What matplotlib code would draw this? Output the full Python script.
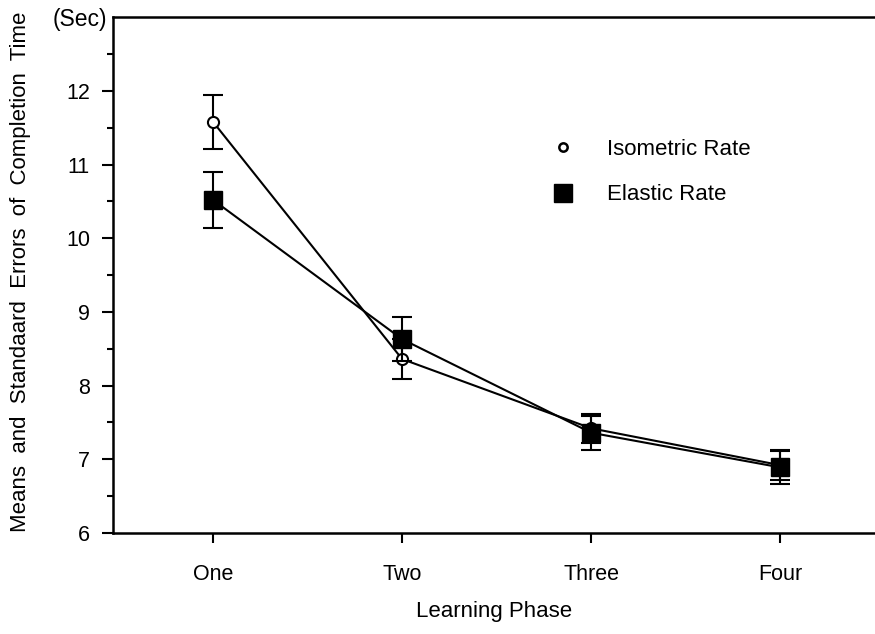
import matplotlib
matplotlib.use("Agg")
import matplotlib.pyplot as plt
from matplotlib.lines import Line2D

plt.rcParams['font.family'] = ['Liberation Sans', 'DejaVu Sans']

# Data
phases = ['One', 'Two', 'Three', 'Four']
x = [1, 2, 3, 4]
iso_mean = [11.58, 8.36, 7.42, 6.92]
iso_err = [0.37, 0.27, 0.20, 0.20]
ela_mean = [10.52, 8.63, 7.36, 6.89]
ela_err = [0.38, 0.30, 0.23, 0.22]

fig = plt.figure(figsize=(8.75, 6.34), dpi=100)
ax = fig.add_axes([0.1297, 0.1593, 0.8703, 0.8137])

# Isometric rate (open circles)
ax.errorbar(x, iso_mean, yerr=iso_err, color='black', lw=1.5, elinewidth=1.5,
            capsize=7, capthick=1.5, marker='o', markersize=8,
            markerfacecolor='white', markeredgecolor='black', markeredgewidth=1.5,
            zorder=3)
# Elastic rate (filled squares)
ax.errorbar(x, ela_mean, yerr=ela_err, color='black', lw=1.5, elinewidth=1.5,
            capsize=7, capthick=1.5, marker='s', markersize=13,
            markerfacecolor='black', markeredgecolor='black', zorder=4)

ax.set_xlim(0.474, 4.5)
ax.set_ylim(6, 13)
ax.set_xticks(x)
ax.set_xticklabels(phases, fontsize=15.5)
ax.set_yticks([6, 7, 8, 9, 10, 11, 12])
ax.set_yticks([6.5, 7.5, 8.5, 9.5, 10.5, 11.5, 12.5], minor=True)
ax.tick_params(axis='y', which='major', length=8, width=1.5, labelsize=15.5, pad=9)
ax.tick_params(axis='y', which='minor', length=4, width=1.5)
ax.tick_params(axis='x', which='major', length=7, width=1.5, labelsize=15.5, pad=15)

ax.spines['right'].set_visible(False)
for s in ['left', 'top', 'bottom']:
    ax.spines[s].set_linewidth(1.8)

ax.set_xlabel('Learning Phase', fontsize=16, labelpad=12)
fig.text(0.024, 0.571, 'Means  and  Standaard  Errors  of  Completion  Time',
         rotation=90, ha='center', va='center', fontsize=16)
fig.text(0.091, 0.970, '(Sec)', ha='center', va='center', fontsize=16.5)

handles = [
    Line2D([], [], ls='none', marker='o', markersize=6, markerfacecolor='white',
           markeredgecolor='black', markeredgewidth=1.8),
    Line2D([], [], ls='none', marker='s', markersize=13, color='black'),
]
ax.legend(handles, ['Isometric Rate', 'Elastic Rate'], frameon=False,
          loc='upper left', bbox_to_anchor=(0.605, 0.813), fontsize=16,
          handletextpad=1.4, labelspacing=1.12, handlelength=1.2,
          bbox_transform=fig.transFigure)

fig.savefig('out.png', dpi=100)
